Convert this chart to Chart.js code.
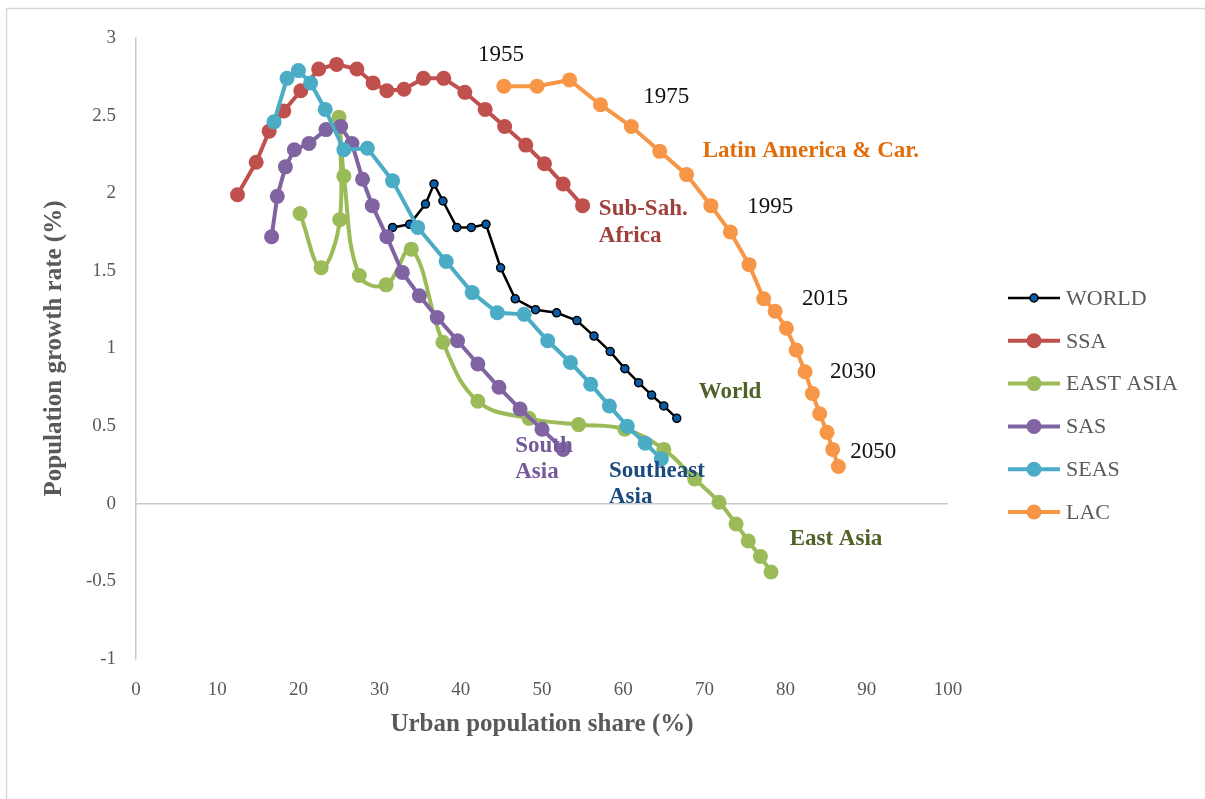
<!DOCTYPE html>
<html>
<head>
<meta charset="utf-8">
<script src="https://cdn.jsdelivr.net/npm/chart.js@4"></script>
<style>
  html, body { margin: 0; padding: 0; background: #fff; }
  canvas { display: block; }
</style>
</head>
<body>
<canvas id="chart" width="1205" height="799"></canvas>
<script>
// series names (legend order)
const seriesNames = ['WORLD', 'SSA', 'EAST ASIA', 'SAS', 'SEAS', 'LAC'];

// urban population share (%) / population growth rate (%) per series
const worldShare = [31.6, 33.7, 35.65, 36.7, 37.8, 39.5, 41.3, 43.1, 44.9, 46.7, 49.2, 51.8, 54.3, 56.4, 58.4, 60.2, 61.9, 63.5, 65.0, 66.6];
const worldGrowth = [1.78, 1.80, 1.93, 2.06, 1.95, 1.78, 1.78, 1.80, 1.52, 1.32, 1.25, 1.23, 1.18, 1.08, 0.98, 0.87, 0.78, 0.70, 0.63, 0.55];

const ssaShare = [12.5, 14.8, 16.4, 18.2, 20.3, 22.5, 24.7, 27.2, 29.2, 30.9, 33.0, 35.4, 37.9, 40.5, 43.0, 45.4, 48.0, 50.3, 52.6, 55.0];
const ssaGrowth = [1.99, 2.20, 2.40, 2.53, 2.66, 2.80, 2.83, 2.80, 2.71, 2.66, 2.67, 2.74, 2.74, 2.65, 2.54, 2.43, 2.31, 2.19, 2.06, 1.92];

const eastAsiaShare = [20.2, 22.8, 25.1, 25.0, 25.6, 27.5, 30.8, 33.9, 37.8, 42.1, 48.4, 54.5, 60.2, 65.0, 68.8, 71.8, 73.9, 75.4, 76.9, 78.2];
const eastAsiaGrowth = [1.87, 1.52, 1.83, 2.49, 2.11, 1.47, 1.41, 1.64, 1.04, 0.66, 0.55, 0.51, 0.48, 0.35, 0.16, 0.01, -0.13, -0.24, -0.34, -0.44];

const sasShare = [16.7, 17.4, 18.4, 19.5, 21.3, 23.4, 25.2, 26.6, 27.9, 29.1, 30.9, 32.8, 34.9, 37.1, 39.6, 42.1, 44.7, 47.3, 50.0, 52.6];
const sasGrowth = [1.72, 1.98, 2.17, 2.28, 2.32, 2.41, 2.43, 2.32, 2.09, 1.92, 1.72, 1.49, 1.34, 1.20, 1.05, 0.90, 0.75, 0.61, 0.48, 0.35];

const seasShare = [17.0, 18.6, 20.0, 21.5, 23.3, 25.6, 28.5, 31.6, 34.7, 38.2, 41.4, 44.5, 47.8, 50.7, 53.5, 56.0, 58.3, 60.5, 62.7, 64.7];
const seasGrowth = [2.46, 2.74, 2.79, 2.71, 2.54, 2.28, 2.29, 2.08, 1.78, 1.56, 1.36, 1.23, 1.22, 1.05, 0.91, 0.77, 0.63, 0.50, 0.39, 0.29];

const lacShare = [45.3, 49.4, 53.4, 57.2, 61.0, 64.5, 67.8, 70.8, 73.2, 75.5, 77.3, 78.7, 80.1, 81.3, 82.4, 83.3, 84.2, 85.1, 85.8, 86.5];
const lacGrowth = [2.69, 2.69, 2.73, 2.57, 2.43, 2.27, 2.12, 1.92, 1.75, 1.54, 1.32, 1.24, 1.13, 0.99, 0.85, 0.71, 0.58, 0.46, 0.35, 0.24];

// text notes on the plot: [text, x, y, colour, bold, align]
const notes = [
  ['1955', 44.95, 2.89, '#111', false, 'center'],
  ['1975', 65.3, 2.62, '#111', false, 'center'],
  ['Latin America & Car.', 69.8, 2.27, '#e36c0a', true, 'left'],
  ['1995', 78.1, 1.91, '#111', false, 'center'],
  ['2015', 84.85, 1.32, '#111', false, 'center'],
  ['2030', 88.3, 0.85, '#111', false, 'center'],
  ['2050', 90.8, 0.335, '#111', false, 'center'],
  ['Sub-Sah.', 57.0, 1.90, '#a0403d', true, 'left'],
  ['Africa', 57.0, 1.726, '#a0403d', true, 'left'],
  ['World', 69.3, 0.72, '#4f6228', true, 'left'],
  ['South', 46.7, 0.374, '#76599b', true, 'left'],
  ['Asia', 46.7, 0.206, '#76599b', true, 'left'],
  ['Southeast', 58.25, 0.213, '#1b4a7e', true, 'left'],
  ['Asia', 58.25, 0.045, '#1b4a7e', true, 'left'],
  ['East Asia', 80.5, -0.225, '#4f6228', true, 'left']
];

const FONT = "'Liberation Serif', 'DejaVu Serif', serif";
const GREY = '#595959';

function pts(xs, ys) {
  return xs.map((x, i) => ({ x: x, y: ys[i] }));
}

function series(i, xs, ys, color, extra) {
  return Object.assign({
    label: seriesNames[i],
    data: pts(xs, ys),
    showLine: true,
    borderColor: color,
    backgroundColor: color,
    borderWidth: 4,
    pointRadius: 7.5,
    pointHoverRadius: 7.5,
    pointBackgroundColor: color,
    pointBorderWidth: 0,
    tension: 0,
    order: 6 - i
  }, extra || {});
}

const datasets = [
  series(0, worldShare, worldGrowth, '#000000', {
    borderWidth: 2.5, pointRadius: 4, pointHoverRadius: 4,
    pointBackgroundColor: '#0b5ca8', pointBorderColor: '#000', pointBorderWidth: 1.5
  }),
  series(1, ssaShare, ssaGrowth, '#c0504d'),
  series(2, eastAsiaShare, eastAsiaGrowth, '#9bbb59', { tension: 0.4 }),
  series(3, sasShare, sasGrowth, '#8064a2'),
  series(4, seasShare, seasGrowth, '#4bacc6'),
  series(5, lacShare, lacGrowth, '#f79646')
];

// outer frame, like the chart border in the source
const framePlugin = {
  id: 'frame',
  beforeDraw(chart) {
    const ctx = chart.ctx;
    ctx.save();
    ctx.strokeStyle = '#d9d9d9';
    ctx.lineWidth = 1.5;
    ctx.strokeRect(6.5, 8.5, 1400, 1000);
    ctx.restore();
  }
};

// labels written on the plot area
const notesPlugin = {
  id: 'notes',
  afterDatasetsDraw(chart) {
    const ctx = chart.ctx;
    const xs = chart.scales.x, ys = chart.scales.y;
    ctx.save();
    ctx.textBaseline = 'middle';
    notes.forEach(n => {
      ctx.font = (n[4] ? 'bold 23px ' : '23px ') + FONT;
      ctx.fillStyle = n[3];
      ctx.textAlign = n[5];
      ctx.fillText(n[0], xs.getPixelForValue(n[1]), ys.getPixelForValue(n[2]));
    });
    ctx.restore();
  }
};

// legend on the right with line + marker samples
const legendPlugin = {
  id: 'sideLegend',
  afterDraw(chart) {
    const ctx = chart.ctx;
    ctx.save();
    chart.data.datasets.forEach((ds, i) => {
      const y = 298 + i * 42.8;
      ctx.strokeStyle = ds.borderColor;
      ctx.lineWidth = ds.borderWidth;
      ctx.beginPath();
      ctx.moveTo(1008, y);
      ctx.lineTo(1060, y);
      ctx.stroke();
      ctx.beginPath();
      ctx.arc(1034, y, ds.pointRadius, 0, Math.PI * 2);
      ctx.fillStyle = ds.pointBackgroundColor;
      ctx.fill();
      if (ds.pointBorderWidth) {
        ctx.lineWidth = ds.pointBorderWidth;
        ctx.strokeStyle = ds.pointBorderColor;
        ctx.stroke();
      }
      ctx.font = '22px ' + FONT;
      ctx.fillStyle = GREY;
      ctx.textAlign = 'left';
      ctx.textBaseline = 'middle';
      ctx.fillText(ds.label, 1066, y + 1);
    });
    ctx.restore();
  }
};

new Chart(document.getElementById('chart'), {
  type: 'scatter',
  data: { datasets: datasets },
  options: {
    responsive: false,
    animation: false,
    layout: { padding: { left: 40, right: 257, top: 38, bottom: 59 } },
    plugins: {
      legend: { display: false },
      tooltip: { enabled: false }
    },
    scales: {
      x: {
        type: 'linear',
        min: 0,
        max: 100,
        ticks: { stepSize: 10, color: GREY, padding: 20, font: { family: FONT, size: 19 } },
        grid: { display: false, drawTicks: false },
        border: { display: false },
        title: {
          display: true,
          text: 'Urban population share (%)',
          color: GREY,
          padding: 0,
          font: { family: FONT, size: 25, weight: 'bold' }
        },
        afterFit(scale) { scale.height = 81; }
      },
      y: {
        min: -1,
        max: 3,
        ticks: {
          stepSize: 0.5, color: GREY, padding: 20, font: { family: FONT, size: 19 },
          callback: v => String(v)
        },
        grid: {
          drawTicks: false,
          lineWidth: 1.5,
          color: c => (c.tick && c.tick.value === 0 ? '#c8c8c8' : 'rgba(0,0,0,0)')
        },
        border: { display: true, color: '#c8c8c8', width: 1.5 },
        title: {
          display: true,
          text: 'Population growth rate (%)',
          color: GREY,
          padding: 0,
          font: { family: FONT, size: 25, weight: 'bold' }
        },
        afterFit(scale) { scale.width = 96; }
      }
    }
  },
  plugins: [framePlugin, notesPlugin, legendPlugin]
});
</script>
</body>
</html>
